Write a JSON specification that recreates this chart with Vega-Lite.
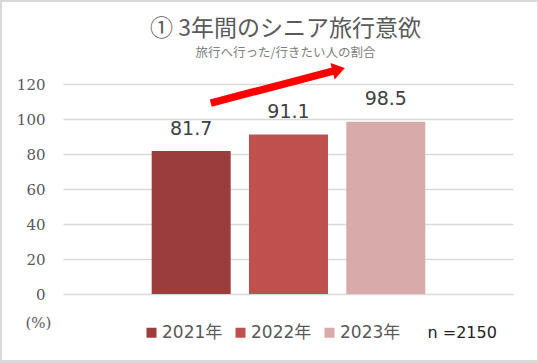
{
  "$schema": "https://vega.github.io/schema/vega-lite/v6.json",
  "width": 535,
  "height": 358,
  "autosize": {"type": "none"},
  "padding": {"left": 2, "top": 2, "right": 1, "bottom": 3},
  "background": "#d9d9d9",
  "config": {"view": {"fill": "white", "stroke": null}},
  "title": {
    "text": "① 3年間のシニア旅行意欲",
    "subtitle": "旅行へ行った/行きたい人の割合",
    "anchor": "middle",
    "frame": "group",
    "offset": -57,
    "dx": 16,
    "font": "Noto Sans CJK JP",
    "fontSize": 23,
    "fontWeight": "normal",
    "color": "#595959",
    "subtitleFont": "Noto Sans CJK JP",
    "subtitleFontSize": 12.5,
    "subtitleColor": "#808080",
    "subtitlePadding": 6
  },
  "datasets": {
    "bars": [
      {"year": 2021, "label": "2021年", "value": 81.7},
      {"year": 2022, "label": "2022年", "value": 91.1},
      {"year": 2023, "label": "2023年", "value": 98.5}
    ],
    "arrow": [
      {"x": 2021.201, "y": 109.1, "x2": 2022.467, "y2": 127.5, "hx": 2022.516, "hy": 128.2}
    ]
  },
  "layer": [
    {
      "data": {"name": "bars"},
      "mark": {"type": "bar", "width": 79},
      "encoding": {
        "x": {
          "field": "year", "type": "quantitative",
          "scale": {"domain": [2019.734, 2024.256], "range": [61, 511], "nice": false, "zero": false},
          "axis": {
            "labels": false, "ticks": false, "domain": false, "grid": false,
            "offset": -66,
            "title": "n =2150",
            "titleX": 425, "titleY": 38,
            "titleAlign": "left", "titleBaseline": "middle",
            "titleFont": "DejaVu Sans", "titleFontSize": 16, "titleFontWeight": "normal",
            "titleColor": "#222222"
          }
        },
        "y": {
          "field": "value", "type": "quantitative",
          "scale": {"domain": [0, 120], "range": [292, 82], "nice": false, "zero": true},
          "axis": {
            "values": [0, 20, 40, 60, 80, 100, 120],
            "offset": -61,
            "ticks": false, "domain": false,
            "grid": true, "gridColor": "#d9d9d9", "gridWidth": 1.5,
            "labelPadding": 18,
            "labelFont": "DejaVu Serif", "labelFontSize": 15, "labelColor": "#595959",
            "title": "(%)",
            "titleAngle": 0, "titleX": -25, "titleY": 320,
            "titleAlign": "center", "titleBaseline": "middle",
            "titleFont": "DejaVu Serif", "titleFontSize": 15, "titleFontWeight": "normal",
            "titleColor": "#595959"
          }
        },
        "color": {
          "field": "label", "type": "nominal",
          "scale": {"domain": ["2021年", "2022年", "2023年"], "range": ["#9c3d3d", "#c0504d", "#d8abab"]},
          "legend": {
            "orient": "none", "direction": "horizontal",
            "legendX": 141, "legendY": 322,
            "title": null,
            "symbolType": "square", "symbolSize": 100, "symbolStrokeWidth": 0,
            "labelFont": "DejaVu Sans, Noto Sans CJK JP", "labelFontSize": 17, "labelColor": "#595959",
            "labelOffset": 2, "columnPadding": 9, "padding": 0
          }
        }
      }
    },
    {
      "data": {"name": "bars"},
      "mark": {"type": "text", "dy": -16.5, "baseline": "alphabetic", "font": "DejaVu Sans", "fontSize": 19, "color": "#404040"},
      "encoding": {
        "x": {"field": "year", "type": "quantitative"},
        "y": {"field": "value", "type": "quantitative"},
        "text": {"field": "value", "type": "quantitative", "format": ".1f"}
      }
    },
    {
      "data": {"name": "arrow"},
      "mark": {"type": "rule", "strokeWidth": 7.5, "color": "#ff0000", "strokeCap": "butt"},
      "encoding": {
        "x": {"field": "x", "type": "quantitative"},
        "y": {"field": "y", "type": "quantitative"},
        "x2": {"field": "x2"},
        "y2": {"field": "y2"}
      }
    },
    {
      "data": {"name": "arrow"},
      "mark": {"type": "point", "shape": "M-0.75,-1L0.75,0L-0.75,1Z", "filled": true, "size": 289, "angle": -14.4, "color": "#ff0000", "opacity": 1, "strokeWidth": 0},
      "encoding": {
        "x": {"field": "hx", "type": "quantitative"},
        "y": {"field": "hy", "type": "quantitative"}
      }
    }
  ]
}
